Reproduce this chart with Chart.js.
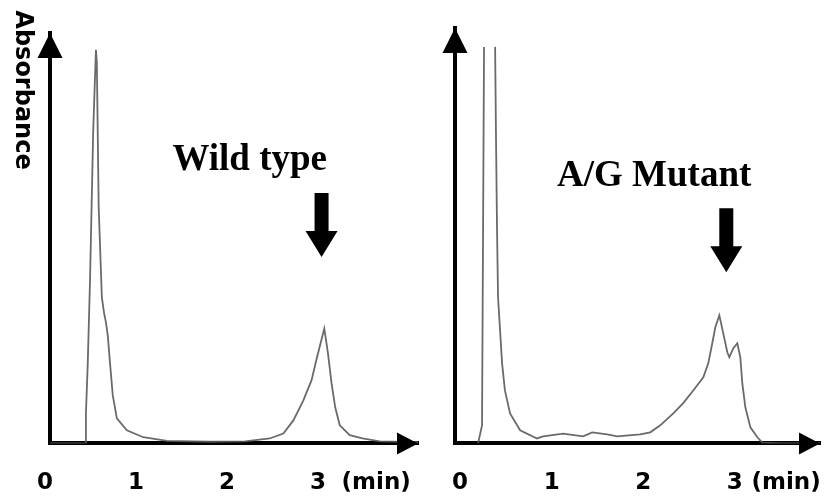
<!DOCTYPE html>
<html>
<head>
<meta charset="utf-8">
<script src="https://cdn.jsdelivr.net/npm/chart.js@4"></script>
<style>
    body { margin: 0; background: #fff; }
    #wrap { position: relative; width: 825px; height: 500px; }
    canvas { position: absolute; top: 0; }
</style>
</head>
<body>
<div id="wrap">
    <canvas id="wildChart" width="420" height="500" style="left:0"></canvas>
    <canvas id="mutantChart" width="405" height="500" style="left:420px"></canvas>
</div>
<script>
// retention time (min) and absorbance (arbitrary units)
const WT_TIME = [0.05, 0.44, 0.45, 0.47, 0.495, 0.53, 0.56, 0.57, 0.59, 0.625, 0.65, 0.67, 0.69, 0.715, 0.745, 0.79, 0.90, 1.08, 1.34, 1.8, 2.2, 2.47, 2.62, 2.73, 2.84, 2.93, 2.99, 3.07, 3.11, 3.15, 3.19, 3.24, 3.35, 3.49, 3.68, 4.1];
const WT_ABS  = [0, 0, 7.3, 19.5, 39.8, 76.3, 95.9, 92.7, 57.6, 35.6, 31.7, 29.5, 26.3, 19.5, 11.7, 6.1, 3.2, 1.5, 0.6, 0.4, 0.5, 1.2, 2.4, 5.6, 10.5, 15.4, 21, 28, 22, 14.6, 8.8, 4.4, 2, 1.2, 0.5, 0.3];

const MT_TIME = [0.197, 0.24, 0.262, 0.32, 0.383, 0.393, 0.404, 0.415, 0.459, 0.49, 0.546, 0.656, 0.84, 0.907, 1.126, 1.344, 1.443, 1.607, 1.716, 1.967, 2.077, 2.186, 2.328, 2.437, 2.546, 2.656, 2.71, 2.754, 2.787, 2.831, 2.874, 2.918, 2.94, 2.984, 3.027, 3.06, 3.082, 3.115, 3.17, 3.246, 3.30, 3.5, 3.93];
const MT_ABS  = [0, 4.4, 96.6, null, 96.6, 73.9, 52, 35.6, 19.5, 12.9, 7.3, 3.2, 1.2, 1.7, 2.4, 1.7, 2.7, 2.2, 1.7, 2.2, 2.7, 4.4, 7.3, 9.8, 12.9, 16.1, 19.5, 24.4, 28.3, 31.2, 26.8, 22.2, 21, 23.2, 24.4, 21, 14.6, 8.8, 3.9, 1.5, 0.2, 0, 0];

const TIME_TICKS = [0, 1, 2, 3];
const UNIT_LABEL = '(min)';
const Y_TITLE = 'Absorbance';
const PANEL_LABELS = ['Wild type', 'A/G Mutant'];

function toPoints(xs, ys) {
    return xs.map((x, i) => ({ x: x, y: ys[i] }));
}

// axis arrowheads, panel label, peak marker and y title
const decorations = {
    id: 'decorations',
    afterDraw(chart, args, opts) {
        const { ctx, chartArea, scales } = chart;
        const x = scales.x, y = scales.y;
        ctx.save();
        ctx.fillStyle = '#000';

        // up arrowhead on y axis
        ctx.beginPath();
        ctx.moveTo(chartArea.left, chartArea.top);
        ctx.lineTo(chartArea.left - 12.5, chartArea.top + 25);
        ctx.lineTo(chartArea.left + 12.5, chartArea.top + 25);
        ctx.closePath();
        ctx.fill();

        // right arrowhead on x axis
        ctx.beginPath();
        ctx.moveTo(chartArea.right, chartArea.bottom);
        ctx.lineTo(chartArea.right - 21, chartArea.bottom - 11);
        ctx.lineTo(chartArea.right - 21, chartArea.bottom + 11);
        ctx.closePath();
        ctx.fill();

        // panel label
        ctx.font = 'bold 37px "Liberation Serif", "Times New Roman", serif';
        ctx.textAlign = 'center';
        ctx.textBaseline = 'alphabetic';
        ctx.fillText(opts.label, x.getPixelForValue(opts.labelX), y.getPixelForValue(opts.labelY));

        // down arrow marking the peak
        const mx = x.getPixelForValue(opts.markX);
        const top = y.getPixelForValue(opts.markTop);
        const tip = y.getPixelForValue(opts.markTip);
        const headH = 26, headW = 16, shaftW = 7;
        ctx.beginPath();
        ctx.moveTo(mx - shaftW, top);
        ctx.lineTo(mx + shaftW, top);
        ctx.lineTo(mx + shaftW, tip - headH);
        ctx.lineTo(mx + headW, tip - headH);
        ctx.lineTo(mx, tip);
        ctx.lineTo(mx - headW, tip - headH);
        ctx.lineTo(mx - shaftW, tip - headH);
        ctx.closePath();
        ctx.fill();

        if (opts.yTitle) {
            ctx.translate(22, 90);
            ctx.rotate(Math.PI / 2);
            ctx.font = 'bold 24px "DejaVu Sans", sans-serif';
            ctx.textBaseline = 'middle';
            ctx.fillText(opts.yTitle, 0, 0);
        }
        ctx.restore();
    }
};

function createChart(id, points, xMin, xMax, yMax, unitAt, padding, deco) {
    const config = {
        type: 'line',
        data: {
            datasets: [{
                data: points,
                borderColor: 'rgba(90, 90, 90, 0.9)',
                borderWidth: 1.8,
                pointRadius: 0,
                tension: 0,
                spanGaps: false
            }]
        },
        options: {
            responsive: false,
            animation: false,
            layout: { padding: padding },
            plugins: {
                legend: { display: false },
                tooltip: { enabled: false },
                decorations: deco
            },
            scales: {
                x: {
                    type: 'linear',
                    min: xMin,
                    max: xMax,
                    // tick marks are hidden with the grid, the length only spaces the labels
                    grid: { display: false, drawTicks: true, tickLength: 26 },
                    border: { display: true, color: '#000', width: 4 },
                    afterBuildTicks: (scale) => {
                        scale.ticks = TIME_TICKS.concat([unitAt]).map(v => ({ value: v }));
                    },
                    ticks: {
                        autoSkip: false,
                        maxRotation: 0,
                        padding: 0,
                        color: '#000',
                        font: { family: '"DejaVu Sans", sans-serif', size: 23, weight: 'bold' },
                        callback: (v) => (v === unitAt ? UNIT_LABEL : String(v))
                    }
                },
                y: {
                    min: 0,
                    max: yMax,
                    grid: { display: false, drawTicks: false },
                    border: { display: true, color: '#000', width: 4 },
                    ticks: { display: false }
                }
            }
        },
        plugins: [decorations]
    };
    return new Chart(id, config);
}

createChart('wildChart', toPoints(WT_TIME, WT_ABS), 0.055, 4.1, 100, 3.64,
    { left: 50, right: 2, top: 33, bottom: 3 },
    { label: PANEL_LABELS[0], labelX: 2.25, labelY: 66.6, markX: 3.04, markTop: 61, markTip: 45.4, yTitle: Y_TITLE });

createChart('mutantChart', toPoints(MT_TIME, MT_ABS), -0.055, 3.93, 101.2, 3.56,
    { left: 35, right: 5, top: 28, bottom: 3 },
    { label: PANEL_LABELS[1], labelX: 2.12, labelY: 62.7, markX: 2.907, markTop: 57.3, markTip: 41.7 });
</script>
</body>
</html>
